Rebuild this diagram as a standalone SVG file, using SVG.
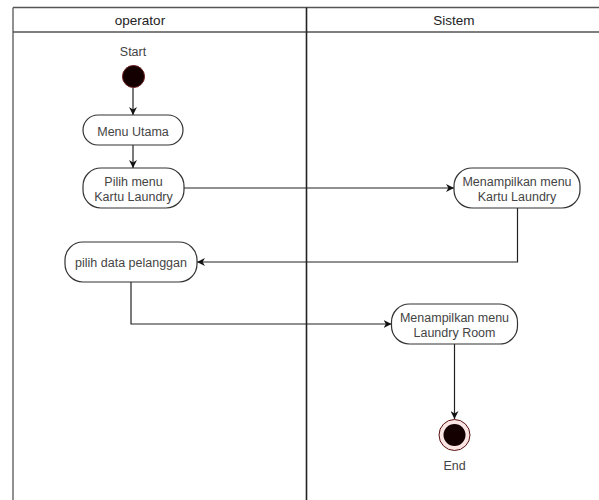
<svg xmlns="http://www.w3.org/2000/svg" width="599" height="500" viewBox="0 0 599 500">
  <style>
    .lane { fill: none; stroke: #555; stroke-width: 1.3; }
    .div { stroke: #222; stroke-width: 1.6; }
    .hdr { font-family: "Liberation Sans", Arial, sans-serif; font-size: 13.5px; fill: #222; text-anchor: middle; }
    .act rect { fill: #fff; stroke: #333; stroke-width: 1.2; }
    .lbl { font-family: "Liberation Sans", Arial, sans-serif; font-size: 12.5px; fill: #444; text-anchor: middle; }
    .edge { fill: none; stroke: #222; stroke-width: 1.2; }
  </style>
  <defs>
    <marker id="arrow" viewBox="0 0 10 10" refX="10" refY="5" markerWidth="8" markerHeight="8" markerUnits="userSpaceOnUse" orient="auto">
      <path d="M0,0 L10,5 L0,10 L3,5 Z" fill="#111"/>
    </marker>
  </defs>

  <rect width="599" height="500" fill="#fff"/>

  <!-- swimlanes -->
  <g id="lanes">
    <line x1="13" y1="7.5" x2="599" y2="7.5" class="lane" stroke="#777"/>
    <line x1="13" y1="32" x2="599" y2="32" class="lane" stroke="#444"/>
    <line x1="13" y1="7.5" x2="13" y2="500" class="lane" stroke="#777"/>
    <line x1="306.5" y1="7.5" x2="306.5" y2="500" class="div"/>
    <text x="140" y="24.5" class="hdr">operator</text>
    <text x="454" y="24.5" class="hdr">Sistem</text>
  </g>

  <!-- connectors -->
  <g id="edges">
    <path d="M133,88 V115" class="edge" marker-end="url(#arrow)"/>
    <path d="M133,145 V168" class="edge" marker-end="url(#arrow)"/>
    <path d="M184,188 H454" class="edge" marker-end="url(#arrow)"/>
    <path d="M517.5,208 V262 H197" class="edge" marker-end="url(#arrow)"/>
    <path d="M131,282 V324 H391.5" class="edge" marker-end="url(#arrow)"/>
    <path d="M454.5,344 V419" class="edge" marker-end="url(#arrow)"/>
  </g>

  <!-- start -->
  <g id="start">
    <text x="133" y="56" class="lbl">Start</text>
    <circle cx="133.5" cy="76.5" r="11" fill="#140000" stroke="#6a1a1a" stroke-width="1"/>
  </g>

  <g id="menu-utama" class="act">
    <rect x="83" y="115" width="100" height="30" rx="15"/>
    <text x="133" y="135.5" class="lbl">Menu Utama</text>
  </g>

  <g id="pilih-menu" class="act">
    <rect x="83" y="168" width="101" height="40" rx="18"/>
    <text x="133.5" y="186" class="lbl">Pilih menu</text>
    <text x="133.5" y="201" class="lbl">Kartu Laundry</text>
  </g>

  <g id="tampil-kartu" class="act">
    <rect x="454" y="168" width="126" height="40" rx="18"/>
    <text x="517" y="186" class="lbl">Menampilkan menu</text>
    <text x="517" y="200.5" class="lbl">Kartu Laundry</text>
  </g>

  <g id="pilih-data" class="act">
    <rect x="65" y="242" width="132" height="40" rx="18"/>
    <text x="131" y="266.5" class="lbl">pilih data pelanggan</text>
  </g>

  <g id="tampil-room" class="act">
    <rect x="391.5" y="304" width="126" height="40" rx="18"/>
    <text x="454.5" y="322" class="lbl">Menampilkan menu</text>
    <text x="454.5" y="337" class="lbl">Laundry Room</text>
  </g>

  <!-- end -->
  <g id="end">
    <circle cx="454.5" cy="435" r="15.5" fill="#fbe4e4" stroke="#5a1010" stroke-width="1"/>
    <circle cx="454.5" cy="435" r="11" fill="#140000"/>
    <text x="454.5" y="469.5" class="lbl">End</text>
  </g>
</svg>
